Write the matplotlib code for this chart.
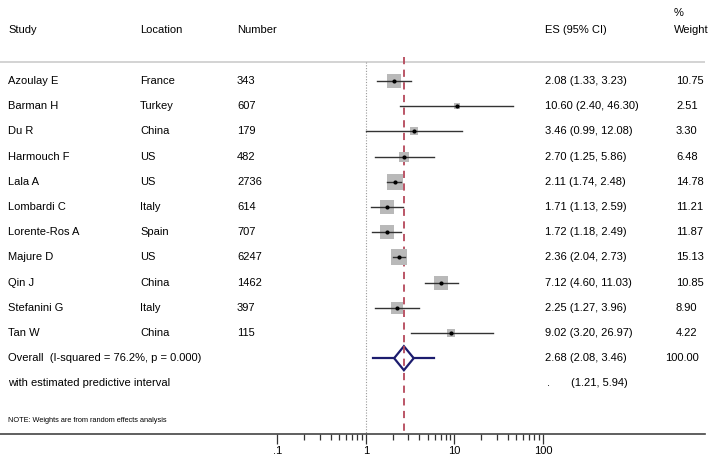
import matplotlib
matplotlib.use("Agg")
import matplotlib.pyplot as plt
import numpy as np

plt.rcParams["font.family"] = ["Liberation Sans", "DejaVu Sans"]

studies = ["Azoulay E", "Barman H", "Du R", "Harmouch F", "Lala A", "Lombardi C",
           "Lorente-Ros A", "Majure D", "Qin J", "Stefanini G", "Tan W"]
locations = ["France", "Turkey", "China", "US", "US", "Italy",
             "Spain", "US", "China", "Italy", "China"]
numbers = [343, 607, 179, 482, 2736, 614, 707, 6247, 1462, 397, 115]
es = [2.08, 10.60, 3.46, 2.70, 2.11, 1.71, 1.72, 2.36, 7.12, 2.25, 9.02]
ci_lo = [1.33, 2.40, 0.99, 1.25, 1.74, 1.13, 1.18, 2.04, 4.60, 1.27, 3.20]
ci_hi = [3.23, 46.30, 12.08, 5.86, 2.48, 2.59, 2.49, 2.73, 11.03, 3.96, 26.97]
weights = [10.75, 2.51, 3.30, 6.48, 14.78, 11.21, 11.87, 15.13, 10.85, 8.90, 4.22]

overall_es, overall_lo, overall_hi = 2.68, 2.08, 3.46
pred_lo, pred_hi = 1.21, 5.94
i_squared, p_value = 76.2, 0.000

tick_vals = [0.1, 1, 10, 100]
tick_labels = [".1", "1", "10", "100"]

W, H = 709, 459
fig = plt.figure(figsize=(W / 100, H / 100), dpi=100)
ax_w = 705
ax = fig.add_axes([0, 25 / H, ax_w / W, 1 - 25 / H])
ax.set_xscale("log")
decade = 88.5
x_one = 366
ax.set_xlim(10 ** (-x_one / decade), 10 ** ((ax_w - x_one) / decade))
ax.set_ylim(434, 0)

for s in ["top", "left", "right"]:
    ax.spines[s].set_visible(False)
ax.spines["bottom"].set_color("#444444")
ax.spines["bottom"].set_linewidth(1.2)
ax.set_yticks([])
ax.set_xticks(tick_vals)
ax.set_xticklabels(tick_labels, fontsize=8)
minor = [m * d for d in [0.1, 1, 10] for m in range(2, 10)]
ax.set_xticks(minor, minor=True)
ax.set_xticklabels([], minor=True)
ax.tick_params(axis="x", which="major", length=7, width=0.9, color="#333333", pad=2)
ax.tick_params(axis="x", which="minor", length=4.5, width=0.9, color="#333333")

tr = ax.get_yaxis_transform()
fs = 8
col_study, col_loc, col_num, col_es, col_w = 8, 140, 237, 545, 676

def tx(xpx, y, s, **kw):
    ax.text(xpx / ax_w, y, s, transform=tr, fontsize=kw.pop("fontsize", fs),
            va="center", ha="left", color="black", **kw)

# headers
tx(col_study, 30, "Study")
tx(col_loc, 30, "Location")
tx(col_num, 30, "Number")
tx(col_es, 30, "ES (95% CI)")
tx(col_w - 2, 30, "Weight")
tx(col_w - 2, 13, "%")

ax.axhline(62, color="#cccccc", lw=1.2)

# reference lines
ax.plot([1, 1], [62, 434], color="#999999", lw=0.8, ls=(0, (1, 1.5)))
ax.plot([overall_es, overall_es], [57, 434], color="#b5485a", lw=1.3,
        ls=(0, (4, 3)))

row0, step = 81, 25.2
for i in range(len(studies)):
    y = row0 + i * step
    side_px = 4.0 * np.sqrt(weights[i])
    ax.scatter([es[i]], [y], marker="s", s=(side_px * 0.72) ** 2,
               color="#b9b9b9", linewidths=0, zorder=2)
    ax.plot([ci_lo[i], ci_hi[i]], [y, y], color="#333333", lw=1, zorder=3)
    ax.plot([es[i]], [y], "o", color="black", ms=3.0, mew=0, zorder=4)
    tx(col_study, y, studies[i])
    tx(col_loc, y, locations[i])
    tx(col_num, y, str(numbers[i]))
    tx(col_es, y, f"{es[i]:.2f} ({ci_lo[i]:.2f}, {ci_hi[i]:.2f})")
    tx(col_w, y, f"{weights[i]:.2f}")

# overall
yo = row0 + len(studies) * step
navy = "#1c1c6e"
ax.plot([pred_lo, overall_lo], [yo, yo], color=navy, lw=1.6, zorder=3)
ax.plot([overall_hi, pred_hi], [yo, yo], color=navy, lw=1.6, zorder=3)
ax.fill([overall_lo, overall_es, overall_hi, overall_es],
        [yo, yo - 12, yo, yo + 12], facecolor="white", edgecolor=navy,
        lw=1.6, zorder=3)
ax.plot([overall_es, overall_es], [yo - 12, yo + 12], color="#b5485a", lw=1.3,
        ls=(0, (4, 3)), zorder=4)
tx(col_study, yo, f"Overall  (I-squared = {i_squared:.1f}%, p = {p_value:.3f})")
tx(col_es, yo, f"{overall_es:.2f} ({overall_lo:.2f}, {overall_hi:.2f})")
tx(665, yo, "100.00")

yp = yo + step
tx(col_study, yp, "with estimated predictive interval")
tx(col_es + 2, yp, ".")
tx(571, yp, f"({pred_lo:.2f}, {pred_hi:.2f})")

tx(col_study, 420, "NOTE: Weights are from random effects analysis", fontsize=5.3)

fig.savefig("out.png", dpi=100)
